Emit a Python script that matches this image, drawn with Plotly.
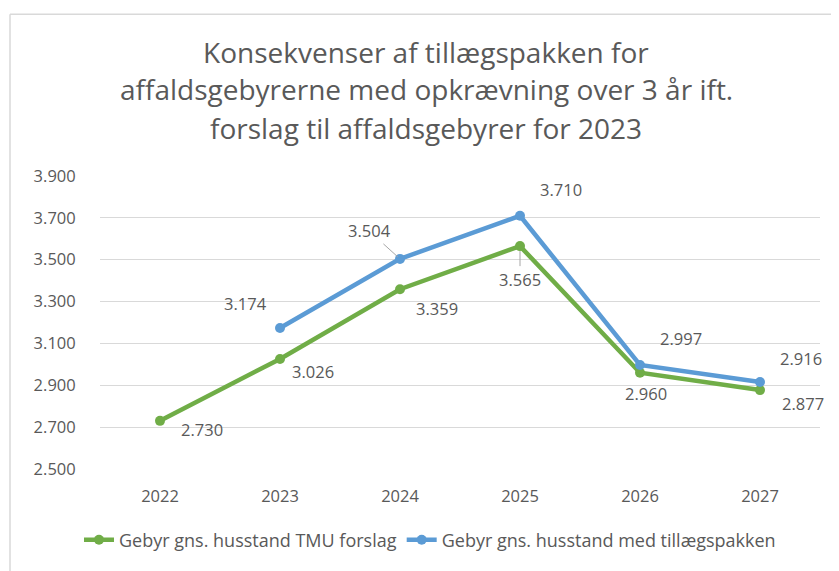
import plotly.graph_objects as go

years = ["2022", "2023", "2024", "2025", "2026", "2027"]
tmu_values = [2730, 3026, 3359, 3565, 2960, 2877]
pakke_values = [None, 3174, 3504, 3710, 2997, 2916]
series_names = ["Gebyr gns. husstand TMU forslag", "Gebyr gns. husstand med tillægspakken"]
title_lines = ["Konsekvenser af tillægspakken for",
               "affaldsgebyrerne med opkrævning over 3 år ift.",
               "forslag til affaldsgebyrer for 2023"]
y_ticks = [2500, 2700, 2900, 3100, 3300, 3500, 3700, 3900]

GREEN = "#70AD47"
BLUE = "#5B9BD5"
TXT = "#595959"
FONT = "Open Sans"
OFF = 8  # page body margin

W, H = 839 - OFF, 571 - OFF
PL, PR = 100 - OFF, 820 - OFF
PT, PB = 176 - OFF, 473 - OFF
pw, ph = PR - PL, PB - PT

def fmt(v):
    return f"{v:,}".replace(",", ".")

def px_x(x):  # reference pixel x -> paper
    return (x - OFF - PL) / pw

def px_y(y):  # reference pixel y -> paper
    return (PB - (y - OFF)) / ph

fig = go.Figure()
fig.add_trace(go.Scatter(x=years, y=tmu_values, name=series_names[0], mode="lines+markers",
                         line=dict(color=GREEN, width=4.5), marker=dict(size=10, color=GREEN)))
fig.add_trace(go.Scatter(x=years, y=pakke_values, name=series_names[1], mode="lines+markers",
                         line=dict(color=BLUE, width=4.5), marker=dict(size=10, color=BLUE),
                         connectgaps=False))

# label offsets in pixels (dx right, dy down)
green_off = [(42, 9), (33, 13), (37, 19), (0, 33), (6, 21), (43, 13)]
blue_off = [None, (-35, -24), (-31, -28), (41, -26), (41, -26), (41, -23)]

anns = []
lab_font = dict(family=FONT, size=16.5, color=TXT)
for i, v in enumerate(tmu_values):
    dx, dy = green_off[i]
    if i == 3:
        anns.append(dict(x=i, y=v, xref="x", yref="y", text=fmt(v), showarrow=True,
                         ax=dx, ay=dy, arrowhead=0, arrowwidth=1, arrowcolor="#a6a6a6",
                         standoff=5, font=lab_font))
    else:
        anns.append(dict(x=i, y=v, xref="x", yref="y", text=fmt(v), showarrow=False,
                         xshift=dx, yshift=-dy, font=lab_font))
for i, v in enumerate(pakke_values):
    if v is None:
        continue
    dx, dy = blue_off[i]
    if i == 2:
        anns.append(dict(x=i, y=v, xref="x", yref="y", text=fmt(v), showarrow=True,
                         ax=dx, ay=dy, arrowhead=0, arrowwidth=1, arrowcolor="#a6a6a6",
                         standoff=3, font=lab_font))
    else:
        anns.append(dict(x=i, y=v, xref="x", yref="y", text=fmt(v), showarrow=False,
                         xshift=dx, yshift=-dy, font=lab_font))

# title lines
for py, line in zip([50, 88, 127], title_lines):
    anns.append(dict(x=px_x(426), y=px_y(py), xref="paper", yref="paper",
                     text=line, showarrow=False, xanchor="center", yanchor="middle",
                     font=dict(family=FONT, size=28, color=TXT)))

fig.update_layout(
    width=W, height=H,
    margin=dict(l=PL, r=W - PR, t=PT, b=H - PB),
    paper_bgcolor="white", plot_bgcolor="white",
    separators=",.",
    showlegend=True,
    legend=dict(orientation="h", x=px_x(430), xanchor="center",
                y=px_y(545), yanchor="middle",
                font=dict(family=FONT, size=18, color=TXT), itemwidth=30),
    annotations=anns,
    shapes=[
        dict(type="line", xref="paper", yref="paper", x0=px_x(10), x1=px_x(900),
             y0=px_y(12), y1=px_y(12), line=dict(color="#d9d9d9", width=1.5)),
        dict(type="line", xref="paper", yref="paper", x0=px_x(10), x1=px_x(10),
             y0=px_y(12), y1=px_y(700), line=dict(color="#d9d9d9", width=1.5)),
    ],
)
fig.update_xaxes(type="category", range=[-0.5, len(years) - 0.5], autorange=False,
                 showgrid=False, showline=False, zeroline=False,
                 ticks="outside", ticklen=12, tickcolor="rgba(0,0,0,0)",
                 tickfont=dict(family=FONT, size=16.5, color=TXT))
fig.update_yaxes(range=[2500, 3900], autorange=False, tickvals=y_ticks, tickformat=",d",
                 showgrid=True, gridcolor="#d9d9d9", gridwidth=1, zeroline=False, showline=False,
                 ticks="outside", ticklen=20, tickcolor="rgba(0,0,0,0)",
                 tickfont=dict(family=FONT, size=16.5, color=TXT))

fig.write_html("out.html")
